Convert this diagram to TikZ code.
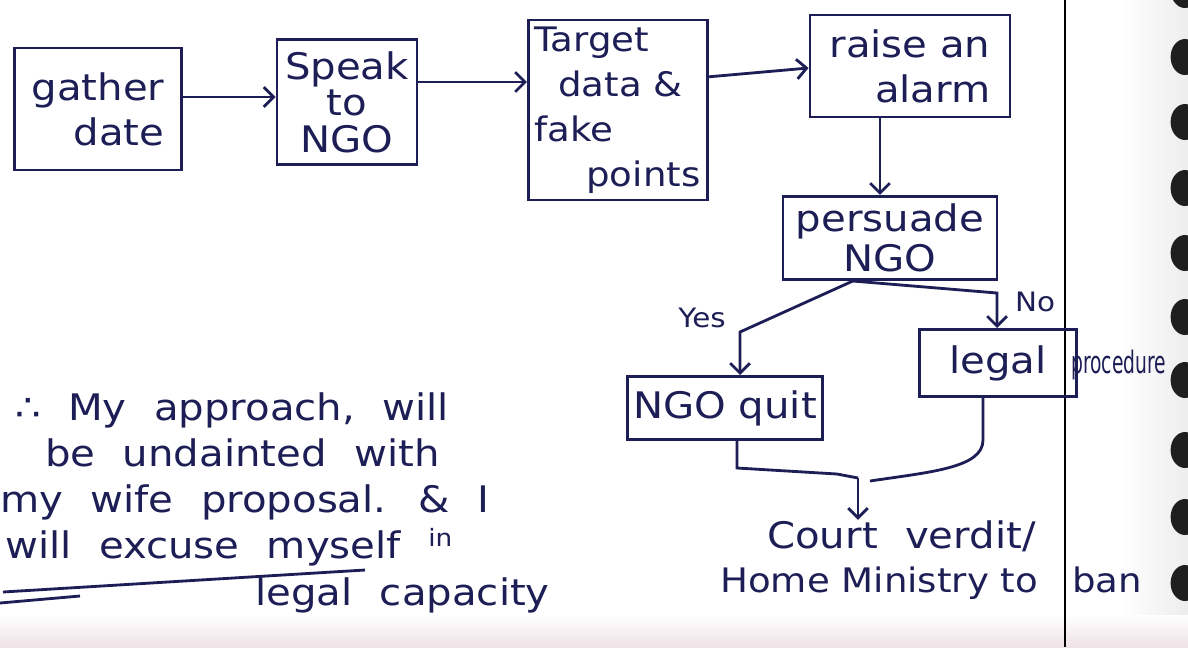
\documentclass[tikz,border=0pt]{standalone}
\usepackage{fontspec}
\setmainfont{DejaVu Sans}[FakeStretch=1.1]
\usetikzlibrary{arrows.meta}
\definecolor{ink}{RGB}{28,30,85}
\definecolor{paperpink}{RGB}{238,226,230}
\tikzset{
  box/.style={draw=ink, line width=2pt, text=ink, inner sep=0.15cm,
    font=\fontsize{26}{32}\selectfont},
  arr/.style={draw=ink, line width=2pt, -{Straight Barb[length=7pt,width=14pt]}},
  link/.style={draw=ink, line width=2pt},
  hand/.style={text=ink, inner sep=0pt,
    font={\fontsize{26}{32}\selectfont\spaceskip=0.75em\relax}},
  small/.style={text=ink, inner sep=0pt, font=\fontsize{19}{19}\selectfont},
}
\begin{document}
\begin{tikzpicture}[x=0.025cm, y=-0.025cm]
\useasboundingbox (0,0) rectangle (1188,647);
% paper
\fill[white] (0,0) rectangle (1188,647);
\shade[left color=white, right color=gray!14] (1120,0) rectangle (1188,647);
\shade[top color=white, bottom color=paperpink] (0,615) rectangle (1188,647);
\draw[black, line width=2pt] (1065,0) -- (1065,647);
\foreach \y in {-10,57,122,188,253,317,380,450,517,583}
  \fill[black!88] (1185,\y) ellipse (0.36cm and 0.45cm);

% top row
\node[box, minimum width=4.18cm, minimum height=3.05cm, align=right] (gather) at (98,109) {gather\\date};
\node[box, minimum width=3.5cm, minimum height=3.13cm, align=center,
  font=\fontsize{26}{26}\selectfont] (speak) at (347,102) {Speak\\to\\NGO};
\node[box, text width=4.18cm, minimum height=4.5cm, align=left, inner ysep=2pt,
  font=\fontsize{24}{32}\selectfont] (target) at (618,110)
  {Target\\\hspace*{0.6cm}data \&\\fake\\\hspace*{1.3cm}points};
\node[box, minimum width=5cm, minimum height=2.55cm, align=right] (alarm) at (910,66) {raise an\\alarm};
\node[box, minimum width=5.35cm, minimum height=2.08cm, align=center,
  font=\fontsize{26}{28}\selectfont] (persuade) at (890,238) {persuade\\NGO};

% outcomes
\node[box, minimum width=3.75cm, minimum height=1.58cm] (ngoquit) at (725,408) {NGO quit};
\node[box, minimum width=3.93cm, minimum height=1.68cm] (legal) at (998,363) {legal};
\node[text=ink, inner sep=0pt, anchor=base west, font=\fontsize{22}{22}\selectfont] (proc) at (1071,373)
  {\scalebox{0.55}[1]{procedure}};
\node[small] (yes) at (702,318) {Yes};
\node[small] (no) at (1035,302) {No};

\node[hand, anchor=base west] (court) at (767,548) {Court verdit/};
\node[hand, anchor=base west, font=\fontsize{24}{32}\selectfont] (ministry) at (720,592)
  {Home Ministry to\hspace{0.85cm}ban};

% note on the left
\node[hand, anchor=base west] (note1) at (15,420) {∴ My approach, will};
\node[hand, anchor=base west] (note2) at (45,466) {be undainted with};
\node[hand, anchor=base west] (note3) at (0,512) {my wife proposal. \& I};
\node[hand, anchor=base west] (note4) at (5,558) {will excuse myself \raisebox{8pt}{\fontsize{17}{17}\selectfont in}};
\node[hand, anchor=base west] (note5) at (255,605) {legal capacity};
\draw[link] (3,592) -- (365,570);
\draw[link] (0,603) -- (80,596);

% arrows
\draw[arr] ([yshift=0.3cm]gather.east) -- ([yshift=0.3cm]gather.east -| speak.west);
\draw[arr] ([yshift=0.5cm]speak.east) -- ([yshift=0.5cm]speak.east -| target.west);
\draw[arr] ([yshift=0.83cm]target.east) -- ([yshift=-0.05cm]alarm.west);
\draw[arr] ([xshift=-0.75cm]alarm.south) -- ([xshift=-0.75cm]alarm.south |- persuade.north);

\coordinate (split) at ([xshift=-0.93cm]persuade.south);
\coordinate (yesbend) at (740,332);
\coordinate (nobend) at (997,293);
\draw[arr] (split) -- (yesbend) -- (yesbend |- ngoquit.north);
\draw[arr] (split) -- (nobend) -- (nobend |- legal.north);

\coordinate (quitdrop) at (737,468);
\coordinate (legaldrop) at (983,440);
\coordinate (join) at (858,478);
\coordinate (joinr) at (870,481);
\draw[link] (quitdrop |- ngoquit.south) -- (quitdrop) -- (837,474) -- (join);
\draw[link] (legaldrop |- legal.south) -- (legaldrop) .. controls (983,468) and (930,472) .. (joinr);
\draw[arr] (join) -- (join |- court.north);
\end{tikzpicture}
\end{document}
